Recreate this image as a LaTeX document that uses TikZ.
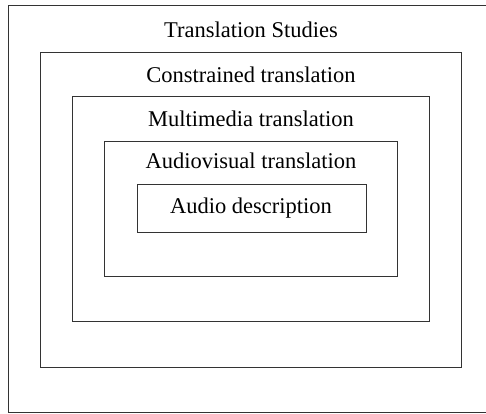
\documentclass[tikz,border=0pt]{standalone}
\usepackage{fontspec}
\setmainfont{Liberation Serif}
\usetikzlibrary{positioning}
\tikzset{level box/.style={
	draw,
	line width=1pt,
	black!80,
}}
\tikzset{level label/.style={
	anchor=base,
	inner sep=0mm,
	font=\fontsize{22.5}{26}\selectfont,
	black,
}}
\begin{document}
\begin{tikzpicture}[x=1pt,y=-1pt]
\useasboundingbox (0,0) rectangle (486,413);
\clip (0,0) rectangle (486,413);

\draw[level box] (8,5) rectangle (492,412);
\draw[level box] (40,52) rectangle (461,367);
\draw[level box] (72,96) rectangle (429,321);
\draw[level box] (104,141) rectangle (397,276);
\draw[level box] (137,184) rectangle (366,232);

\node(ts)[level label] at (251,37) {Translation Studies};
\node(ct)[level label] at (251,82) {Constrained translation};
\node(mt)[level label] at (251,126) {Multimedia translation};
\node(avt)[level label] at (251,168) {Audiovisual translation};
\node(ad)[level label] at (251,213) {Audio description};

\end{tikzpicture}
\end{document}
